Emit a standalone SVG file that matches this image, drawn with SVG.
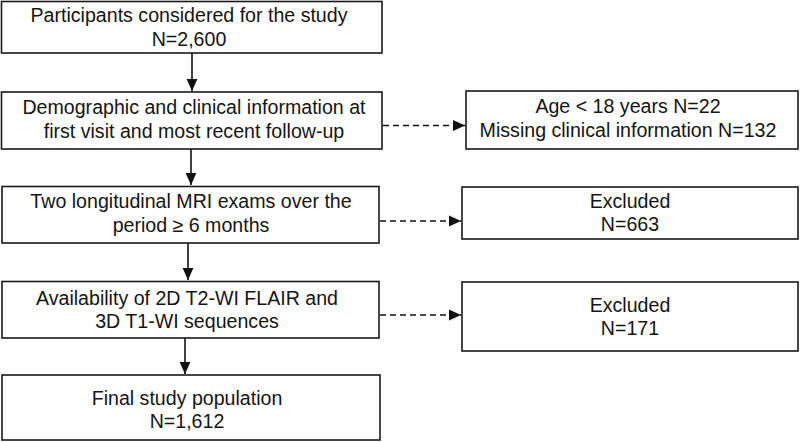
<svg xmlns="http://www.w3.org/2000/svg" width="800" height="442" viewBox="0 0 800 442">
<style>
.box{fill:#fff;stroke:#1a1a1a;stroke-width:1.6}
.t{font-family:"Liberation Sans",Arial,sans-serif;font-size:19.6px;fill:#141414;text-anchor:middle}
.solid{stroke:#111;stroke-width:1.6;fill:none}
.dash{stroke:#111;stroke-width:1.6;fill:none;stroke-dasharray:6 4}
</style>
<defs>
<marker id="ah" viewBox="0 0 10 10" refX="10" refY="5" markerWidth="7" markerHeight="7" markerUnits="userSpaceOnUse" orient="auto">
<path d="M0,0 L10,5 L0,10 Z" fill="#111"/>
</marker>
<marker id="ah2" viewBox="0 0 10 10" refX="10" refY="5" markerWidth="12" markerHeight="12" orient="auto" markerUnits="userSpaceOnUse">
<path d="M0,0.5 L10,5 L0,9.5 Z" fill="#111"/>
</marker>
</defs>
<rect width="800" height="442" fill="#fff"/>
<g id="connectors">
<line class="solid" x1="192" y1="53" x2="192" y2="91" marker-end="url(#ah2)"/>
<line class="solid" x1="191" y1="149" x2="191" y2="185" marker-end="url(#ah2)"/>
<line class="solid" x1="188" y1="243" x2="188" y2="280" marker-end="url(#ah2)"/>
<line class="solid" x1="185" y1="338" x2="185" y2="374" marker-end="url(#ah2)"/>
<line class="dash" x1="383" y1="125.5" x2="465" y2="125.5" marker-end="url(#ah2)"/>
<line class="dash" x1="380" y1="221" x2="461" y2="221" marker-end="url(#ah2)"/>
<line class="dash" x1="380" y1="315" x2="461" y2="315" marker-end="url(#ah2)"/>
</g>
<g id="n1">
<rect class="box" x="1.5" y="1.5" width="380.5" height="51.5"/>
<text class="t" x="189" y="22">Participants considered for the study</text>
<text class="t" x="189" y="46">N=2,600</text>
</g>
<g id="n2">
<rect class="box" x="1.5" y="92" width="380.5" height="57"/>
<text class="t" x="194" y="114">Demographic and clinical information at</text>
<text class="t" x="194" y="138">first visit and most recent follow-up</text>
</g>
<g id="n3">
<rect class="box" x="2" y="186.5" width="377" height="56.5"/>
<text class="t" x="191" y="208">Two longitudinal MRI exams over the</text>
<text class="t" x="191" y="232">period ≥ 6 months</text>
</g>
<g id="n4">
<rect class="box" x="2" y="281.5" width="377" height="56.5"/>
<text class="t" x="187" y="305">Availability of 2D T2-WI FLAIR and</text>
<text class="t" x="187" y="328">3D T1-WI sequences</text>
</g>
<g id="n5">
<rect class="box" x="2" y="375" width="378" height="65"/>
<text class="t" x="187" y="405">Final study population</text>
<text class="t" x="187" y="428">N=1,612</text>
</g>
<g id="r1">
<rect class="box" x="466" y="91" width="332" height="58"/>
<text class="t" x="628" y="113">Age &lt; 18 years N=22</text>
<text class="t" x="628" y="137">Missing clinical information N=132</text>
</g>
<g id="r2">
<rect class="box" x="462" y="187" width="336" height="52"/>
<text class="t" x="630" y="208">Excluded</text>
<text class="t" x="630" y="231">N=663</text>
</g>
<g id="r3">
<rect class="box" x="462" y="282" width="336" height="69"/>
<text class="t" x="630" y="312">Excluded</text>
<text class="t" x="630" y="335">N=171</text>
</g>
</svg>
